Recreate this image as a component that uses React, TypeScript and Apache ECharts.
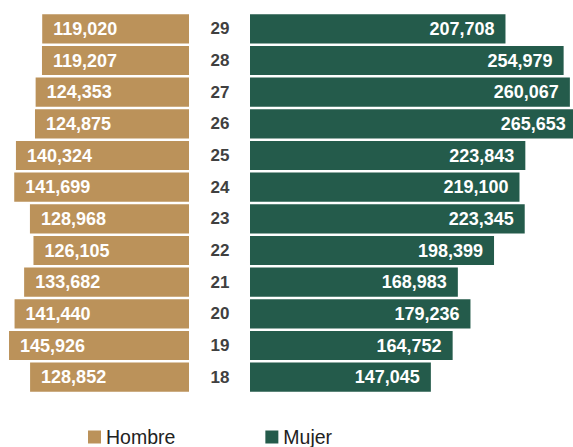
import React, { useEffect, useRef } from "react";
import * as echarts from "echarts";

const ages = ["18", "19", "20", "21", "22", "23", "24", "25", "26", "27", "28", "29"];
const hombre = [128852, 145926, 141440, 133682, 126105, 128968, 141699, 140324, 124875, 124353, 119207, 119020];
const mujer = [147045, 164752, 179236, 168983, 198399, 223345, 219100, 223843, 265653, 260067, 254979, 207708];

const TAN = "#BB925A";
const GREEN = "#245B4B";
const FONT = "'Liberation Sans', Arial, sans-serif";

const fmt = (v: number) => v.toLocaleString("en-US");

export default function App() {
  const ref = useRef<HTMLDivElement>(null);
  useEffect(() => {
    if (!ref.current) return;
    const chart = echarts.init(ref.current, undefined, { renderer: "svg" });
    chart.setOption({
      animation: false,
      textStyle: { fontFamily: FONT },
      legend: {
        left: 83,
        top: 422,
        itemWidth: 13,
        itemHeight: 13,
        itemGap: 90,
        icon: "rect",
        textStyle: { fontSize: 19.5, lineHeight: 20, color: "#222", fontFamily: FONT },
        data: ["Hombre", "Mujer"],
      },
      grid: [
        { left: 4, width: 185, top: 13, height: 380 },
        { left: 250, right: 0, top: 13, height: 380 },
      ],
      xAxis: [
        { gridIndex: 0, type: "value", min: 0, max: 150000, inverse: true, show: false },
        { gridIndex: 1, type: "value", min: 0, max: 262600, show: false },
      ],
      yAxis: [
        { gridIndex: 0, type: "category", data: ages, show: false },
        {
          gridIndex: 1,
          type: "category",
          data: ages,
          position: "left",
          axisLine: { show: false },
          axisTick: { show: false },
          axisLabel: {
            align: "center",
            margin: 30,
            fontSize: 17,
            fontWeight: "bold",
            color: "#404040",
            fontFamily: FONT,
          },
        },
      ],
      series: [
        {
          name: "Hombre",
          type: "bar",
          xAxisIndex: 0,
          yAxisIndex: 0,
          data: hombre,
          barCategoryGap: "8%",
          itemStyle: { color: TAN },
          label: {
            show: true,
            position: "insideLeft",
            distance: 11,
            color: "#fff",
            fontSize: 18,
            fontWeight: "bold",
            fontFamily: FONT,
            formatter: (p: any) => fmt(p.value),
          },
        },
        {
          name: "Mujer",
          type: "bar",
          xAxisIndex: 1,
          yAxisIndex: 1,
          data: mujer,
          clip: false,
          barCategoryGap: "8%",
          itemStyle: { color: GREEN },
          label: {
            show: true,
            position: "insideRight",
            distance: 11,
            color: "#fff",
            fontSize: 18,
            fontWeight: "bold",
            fontFamily: FONT,
            formatter: (p: any) => fmt(p.value),
          },
        },
      ],
    });
    return () => chart.dispose();
  }, []);
  return (
    <div
      ref={ref}
      style={{ position: "fixed", left: 0, top: 0, width: 573, height: 447, background: "#fff" }}
    />
  );
}
